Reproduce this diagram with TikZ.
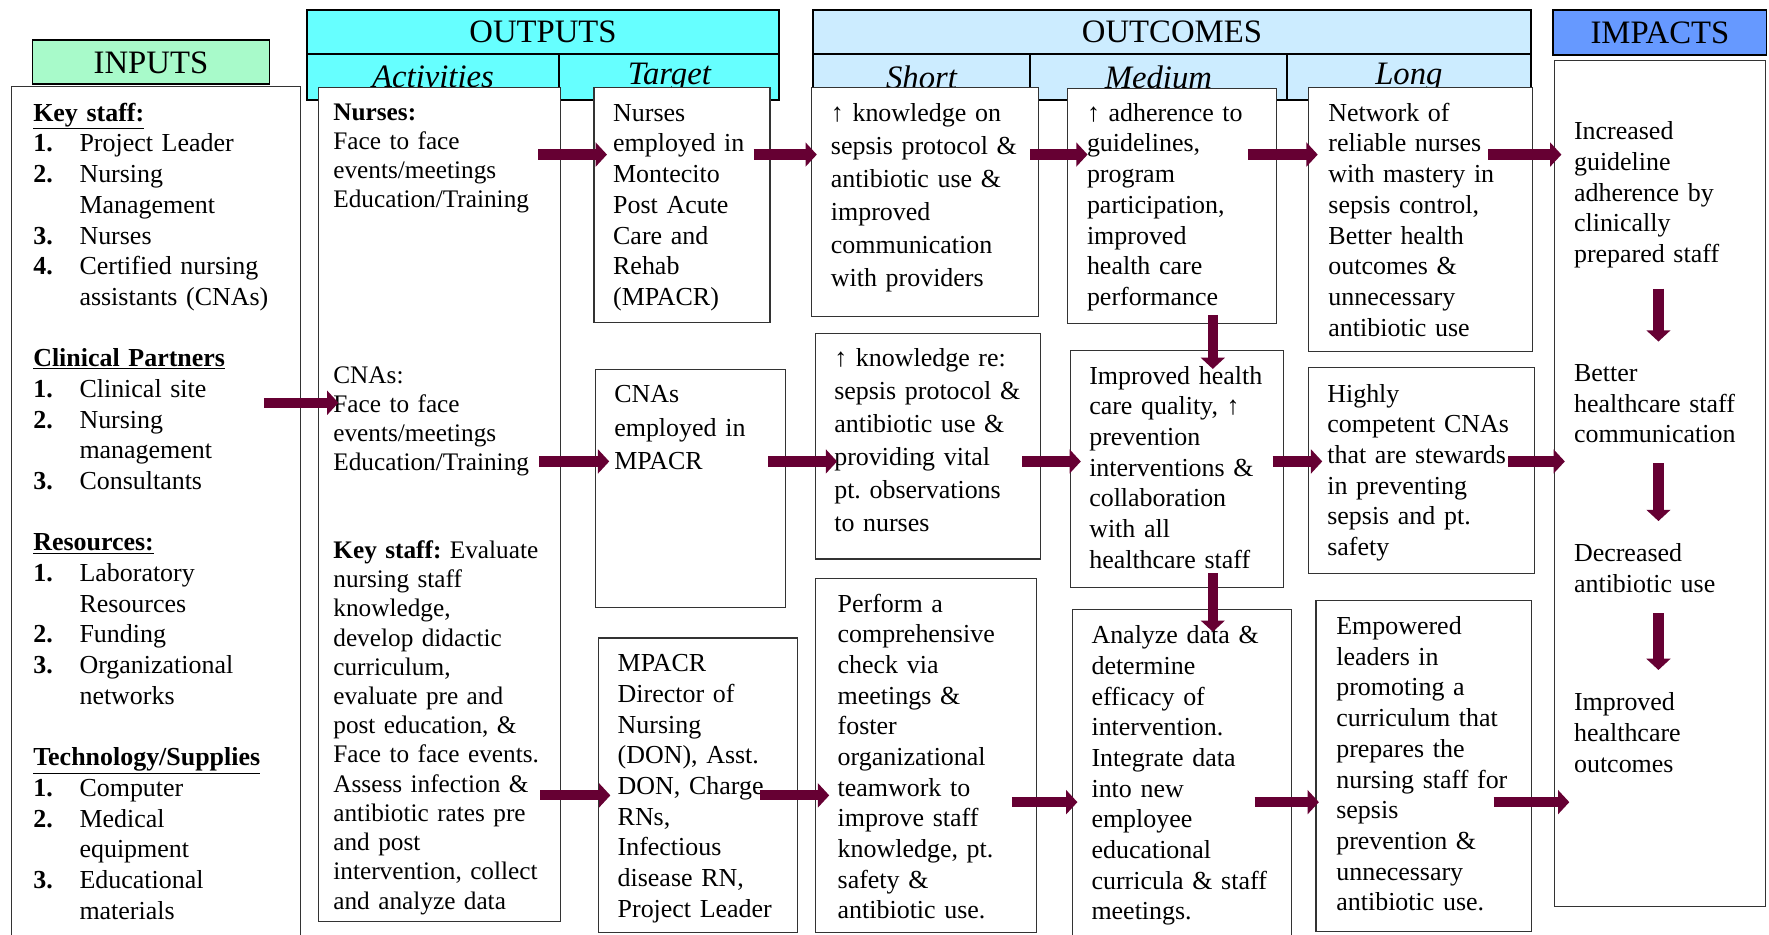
\documentclass[tikz,border=0pt]{standalone}
\usepackage{fontspec}
\setmainfont{Liberation Serif}
\usetikzlibrary{arrows.meta}
\frenchspacing

\definecolor{inputgreen}{RGB}{168,250,202}
\definecolor{outputcyan}{RGB}{102,255,255}
\definecolor{outcomeblue}{RGB}{204,236,255}
\definecolor{impactblue}{RGB}{102,153,255}
\definecolor{flowred}{RGB}{102,0,51}

\newcommand{\itemno}[1]{\makebox[41pt][l]{\textbf{#1.}}}
\newcommand{\itemind}{\hspace*{41pt}}

\begin{document}
\begin{tikzpicture}[x=1pt, y=-1pt,
    head/.style = {draw, line width=1.6pt, anchor=north west, inner sep=0pt,
                   font=\fontsize{29}{32}\selectfont},
    box/.style  = {draw=black!80, line width=1pt, fill=white, anchor=north west,
                   align=left, inner xsep=17pt, inner ysep=0pt, text height=30pt,
                   font=\fontsize{23}{27.2}\selectfont},
    note/.style = {anchor=base west, align=left, inner sep=0pt, text width=160pt,
                   font=\fontsize{23}{27.2}\selectfont},
    flow/.style = {line width=9pt, draw=flowred, -{Triangle[length=10pt,width=21pt]}}]
\useasboundingbox (0,0) rectangle (1568,828);

\node[head, fill=inputgreen, minimum width=210pt, minimum height=39pt] (inputs) at (28,35) {INPUTS};
\node[head, fill=outputcyan, minimum width=419pt, minimum height=39pt] (outputs) at (271,8) {OUTPUTS};
\node[head, fill=outputcyan, minimum width=224pt, minimum height=41pt] (activities) at (271,47) {\itshape Activities};
\node[head, fill=outputcyan, minimum width=195pt, minimum height=41pt] (target) at (495,47) {\itshape Target};
\node[head, fill=outcomeblue, minimum width=636pt, minimum height=39pt] (outcomes) at (720,8) {OUTCOMES};
\node[head, fill=outcomeblue, minimum width=192pt, minimum height=41pt] (short) at (720,47) {\itshape Short};
\node[head, fill=outcomeblue, minimum width=228pt, minimum height=41pt] (medium) at (912,47) {\itshape Medium};
\node[head, fill=outcomeblue, minimum width=216pt, minimum height=41pt] (long) at (1140,47) {\itshape Long};
\node[head, fill=impactblue, minimum width=189pt, minimum height=40pt] (impacts) at (1376,8) {IMPACTS};

\node[box, inner xsep=19pt, text width=218pt, text height=31pt, text depth=725pt] (inp) at (10,76) {
    \underline{\textbf{Key staff:}}\\
    \itemno{1}Project Leader\\
    \itemno{2}Nursing\\
    \itemind Management\\
    \itemno{3}Nurses\\
    \itemno{4}Certified nursing\\
    \itemind assistants (CNAs)\\[27.2pt]
    \underline{\textbf{Clinical Partners}}\\
    \itemno{1}Clinical site\\
    \itemno{2}Nursing\\
    \itemind management\\
    \itemno{3}Consultants\\[27.2pt]
    \underline{\textbf{Resources:}}\\
    \itemno{1}Laboratory\\
    \itemind Resources\\
    \itemno{2}Funding\\
    \itemno{3}Organizational\\
    \itemind networks\\[27.2pt]
    \underline{\textbf{Technology/Supplies}}\\
    \itemno{1}Computer\\
    \itemno{2}Medical\\
    \itemind equipment\\
    \itemno{3}Educational\\
    \itemind materials};
\node[box, inner xsep=13pt, text width=188pt, text height=29pt, text depth=710pt,
      font=\fontsize{22.4}{25.9}\selectfont] (act) at (282,77) {
    \textbf{Nurses:}\\
    Face to face\\
    events/meetings\\
    Education/Training\\[129.5pt]
    CNAs:\\
    Face to face\\
    events/meetings\\
    Education/Training\\[51.8pt]
    \textbf{Key staff:} Evaluate\\
    nursing staff\\
    knowledge,\\
    develop didactic\\
    curriculum,\\
    evaluate pre and\\
    post education, \&\\
    Face to face events.\\
    Assess infection \&\\
    antibiotic rates pre\\
    and post\\
    intervention, collect\\
    and analyze data};

\node[box, text width=122pt, text depth=178pt] (t1) at (526,77)
    {Nurses\\employed in\\Montecito\\Post Acute\\Care and\\Rehab\\(MPACR)};
\node[box, text width=135pt, text height=29pt, text depth=182pt,
      font=\fontsize{23}{30}\selectfont] (t2) at (527,327)
    {CNAs\\employed in\\MPACR};
\node[box, text width=142pt, text depth=231pt] (t3) at (530,565)
    {MPACR\\Director of\\Nursing\\(DON), Asst.\\DON, Charge\\RNs,\\Infectious\\disease RN,\\Project Leader};

\node[box, text width=167pt, text depth=173pt, font=\fontsize{23}{29.3}\selectfont] (s1) at (719,77)
    {↑ knowledge on\\sepsis protocol \&\\antibiotic use \&\\improved\\communication\\with providers};
\node[box, text width=166pt, text height=29pt, text depth=171pt, font=\fontsize{23}{29.3}\selectfont] (s2) at (722,295)
    {↑ knowledge re:\\sepsis protocol \&\\antibiotic use \&\\providing vital\\pt. observations\\to nurses};
\node[box, inner xsep=20pt, text width=156pt, text depth=284pt] (s3) at (722,512)
    {Perform a\\comprehensive\\check via\\meetings \&\\foster\\organizational\\teamwork to\\improve staff\\knowledge, pt.\\safety \&\\antibiotic use.};

\node[box, text width=151pt, text height=29pt, text depth=179pt] (m1) at (946,78)
    {↑ adherence to\\guidelines,\\program\\participation,\\improved\\health care\\performance};
\node[box, text width=155pt, text depth=180pt] (m2) at (948,310)
    {Improved health\\care quality, ↑\\prevention\\interventions \&\\collaboration\\with all\\healthcare staff};
\node[box, text width=160pt, text depth=262pt] (m3) at (950,540)
    {Analyze data \&\\determine\\efficacy of\\intervention.\\Integrate data\\into new\\employee\\educational\\curricula \& staff\\meetings.};

\node[box, inner xsep=18pt, text width=163pt, text depth=204pt] (l1) at (1159,77)
    {Network of\\reliable nurses\\with mastery in\\sepsis control,\\Better health\\outcomes \&\\unnecessary\\antibiotic use};
\node[box, text width=167pt, text height=31pt, text depth=152pt] (l2) at (1159,325)
    {Highly\\competent CNAs\\that are stewards\\in preventing\\sepsis and pt.\\safety};
\node[box, inner xsep=18pt, text width=155pt, text depth=263pt] (l3) at (1166,532)
    {Empowered\\leaders in\\promoting a\\curriculum that\\prepares the\\nursing staff for\\sepsis\\prevention \&\\unnecessary\\antibiotic use.};

\node[box, minimum width=187pt, minimum height=750pt] (imp) at (1377,53) {};
\node[note] (imp1) at (1395,124) {Increased\\guideline\\adherence by\\clinically\\prepared staff};
\node[note] (imp2) at (1395,338) {Better\\healthcare staff\\communication};
\node[note] (imp3) at (1395,498) {Decreased\\antibiotic use};
\node[note] (imp4) at (1395,630) {Improved\\healthcare\\outcomes};

\coordinate (rin) at (0,357);
\coordinate (r1) at (0,137);
\coordinate (r2) at (0,409);
\coordinate (r3) at (0,705);
\coordinate (r3b) at (0,711);
\coordinate (mcol) at (1075,0);
\coordinate (icol) at (1470,0);

\draw[flow, shorten <=-33pt, shorten >=-18pt] (inp.east |- rin) -- (act.west |- rin);
\draw[flow, shorten <=-20pt, shorten >=-12pt] (act.east |- r1) -- (t1.west |- r1);
\draw[flow, shorten <=-19pt, shorten >=-13pt] (act.east |- r2) -- (t2.west |- r2);
\draw[flow, shorten <=-18pt, shorten >=-11pt] (act.east |- r3) -- (t3.west |- r3);
\draw[flow, shorten <=-15pt, shorten >=-5pt] (t1.east |- r1) -- (s1.west |- r1);
\draw[flow, shorten <=-16pt, shorten >=-20pt] (t2.east |- r2) -- (s2.west |- r2);
\draw[flow, shorten <=-33pt, shorten >=-13pt] (t3.east |- r3) -- (s3.west |- r3);
\draw[flow, shorten <=-8pt, shorten >=-18pt] (s1.east |- r1) -- (m1.west |- r1);
\draw[flow, shorten <=-17pt, shorten >=-10pt] (s2.east |- r2) -- (m2.west |- r2);
\draw[flow, shorten <=-22pt, shorten >=-5pt] (s3.east |- r3b) -- (m3.west |- r3b);
\draw[flow, shorten <=-26pt, shorten >=-9pt] (m1.east |- r1) -- (l1.west |- r1);
\draw[flow, shorten <=-10pt, shorten >=-13pt] (m2.east |- r2) -- (l2.west |- r2);
\draw[flow, shorten <=-33pt, shorten >=-3pt] (m3.east |- r3b) -- (l3.west |- r3b);
\draw[flow, shorten <=-40pt, shorten >=-7pt] (l1.east |- r1) -- (imp.west |- r1);
\draw[flow, shorten <=-24pt, shorten >=-10pt] (l2.east |- r2) -- (imp.west |- r2);
\draw[flow, shorten <=-34pt, shorten >=-14pt] (l3.east |- r3b) -- (imp.west |- r3b);
\draw[flow, shorten <=-8pt, shorten >=-17pt] (m1.south -| mcol) -- (m2.north -| mcol);
\draw[flow, shorten <=-13pt, shorten >=-20pt] (m2.south -| mcol) -- (m3.north -| mcol);
\draw[flow, shorten <=18pt, shorten >=20pt] (imp1.south -| icol) -- (imp2.north -| icol);
\draw[flow, shorten <=18pt, shorten >=20pt] (imp2.south -| icol) -- (imp3.north -| icol);
\draw[flow, shorten <=18pt, shorten >=20pt] (imp3.south -| icol) -- (imp4.north -| icol);
\end{tikzpicture}
\end{document}
